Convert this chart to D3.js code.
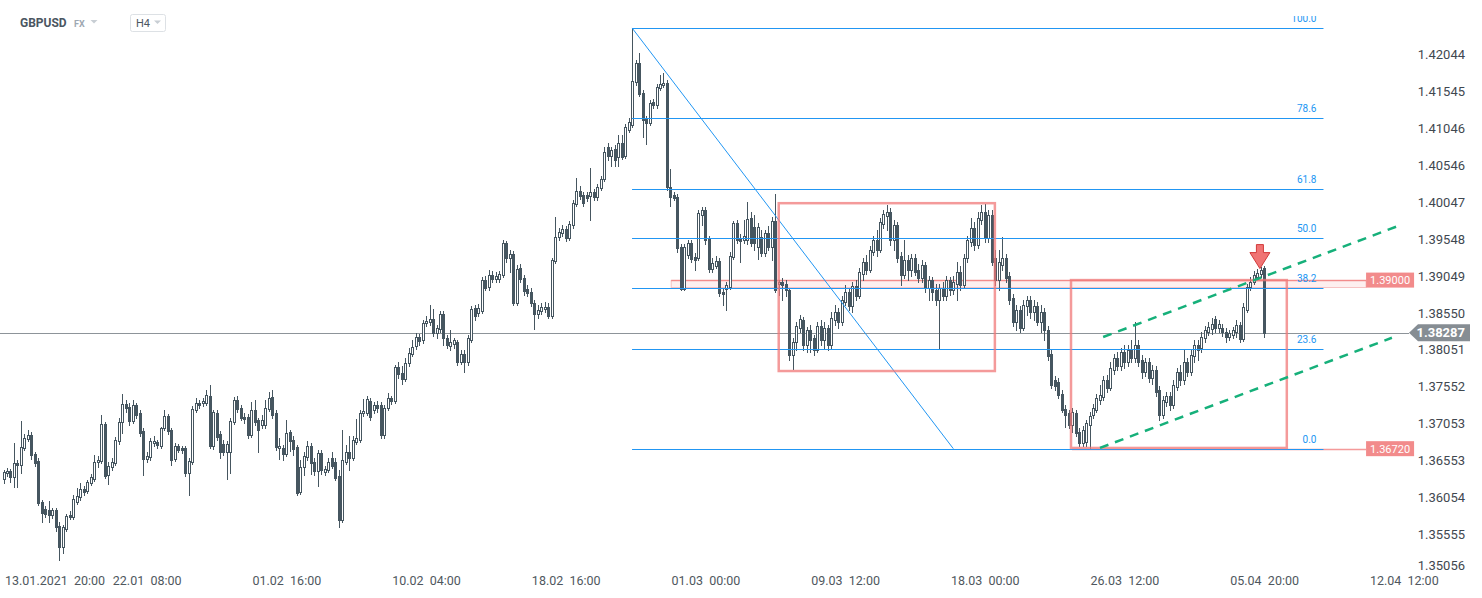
<!DOCTYPE html>
<html><head><meta charset="utf-8">
<script src="https://cdn.jsdelivr.net/npm/d3@7"></script>
<style>
html,body{margin:0;padding:0;background:#fff;}
svg{display:block;font-family:Roboto,"Noto Sans",sans-serif;}
</style></head><body>
<svg id="chart" width="1482" height="598"></svg>
<script>
const opens = [
1.3631,1.3639,1.3642,1.3634,1.3653,1.3650,1.3673,1.3685,1.3690,1.3665,
1.3655,1.3600,1.3590,1.3589,1.3582,1.3589,1.3567,1.3539,1.3563,1.3582,
1.3580,1.3600,1.3607,1.3617,1.3615,1.3626,1.3631,1.3654,1.3655,1.3705,
1.3636,1.3647,1.3653,1.3682,1.3708,1.3732,1.3728,1.3709,1.3731,1.3720,
1.3696,1.3658,1.3661,1.3680,1.3681,1.3676,1.3700,1.3716,1.3697,1.3658,
1.3676,1.3673,1.3673,1.3639,1.3654,1.3724,1.3734,1.3734,1.3734,1.3743,
1.3676,1.3720,1.3692,1.3678,1.3667,1.3667,1.3708,1.3738,1.3727,1.3715,
1.3715,1.3690,1.3724,1.3711,1.3704,1.3704,1.3726,1.3742,1.3720,1.3673,
1.3673,1.3665,1.3695,1.3684,1.3674,1.3613,1.3647,1.3661,1.3676,1.3654,
1.3642,1.3666,1.3640,1.3643,1.3659,1.3654,1.3635,1.3576,1.3654,1.3667,
1.3659,1.3681,1.3684,1.3720,1.3720,1.3736,1.3724,1.3731,1.3731,1.3690,
1.3727,1.3741,1.3736,1.3783,1.3774,1.3766,1.3788,1.3800,1.3811,1.3823,
1.3819,1.3842,1.3843,1.3847,1.3828,1.3834,1.3854,1.3822,1.3811,1.3814,
1.3816,1.3789,1.3800,1.3789,1.3819,1.3862,1.3856,1.3858,1.3900,1.3891,
1.3907,1.3902,1.3902,1.3907,1.3950,1.3930,1.3935,1.3869,1.3916,1.3903,
1.3888,1.3884,1.3869,1.3854,1.3858,1.3861,1.3864,1.3851,1.3926,1.3958,
1.3964,1.3969,1.3957,1.3975,1.4003,1.4020,1.4015,1.4015,1.4014,1.4019,
1.4012,1.4025,1.4037,1.4080,1.4068,1.4077,1.4066,1.4085,1.4068,1.4103,
1.4110,1.4168,1.4194,1.4153,1.4118,1.4112,1.4141,1.4137,1.4160,1.4164,
1.4167,1.4026,1.4015,1.4012,1.3945,1.3888,1.3934,1.3950,1.3931,1.3930,
1.3988,1.3995,1.3956,1.3915,1.3919,1.3926,1.3884,1.3888,1.3891,1.3931,
1.3977,1.3957,1.3954,1.3954,1.3984,1.3972,1.3945,1.3958,1.3937,1.3964,
1.3945,1.3980,1.3895,1.3897,1.3895,1.3887,1.3799,1.3816,1.3835,1.3846,
1.3812,1.3833,1.3822,1.3806,1.3838,1.3819,1.3835,1.3812,1.3846,1.3857,
1.3843,1.3870,1.3884,1.3865,1.3892,1.3878,1.3908,1.3925,1.3914,1.3938,
1.3954,1.3941,1.3976,1.3987,1.3992,1.3954,1.3975,1.3933,1.3907,1.3927,
1.3914,1.3930,1.3914,1.3903,1.3920,1.3889,1.3900,1.3887,1.3873,1.3889,
1.3878,1.3900,1.3887,1.3895,1.3911,1.3893,1.3930,1.3951,1.3970,1.3947,
1.3981,1.3992,1.3957,1.3988,1.3930,1.3900,1.3920,1.3930,1.3906,1.3876,
1.3843,1.3860,1.3835,1.3865,1.3873,1.3857,1.3865,1.3843,1.3857,1.3833,
1.3800,1.3765,1.3762,1.3746,1.3726,1.3720,1.3704,1.3720,1.3695,1.3680,
1.3681,1.3704,1.3718,1.3724,1.3738,1.3742,1.3765,1.3754,1.3778,1.3795,
1.3784,1.3803,1.3789,1.3806,1.3795,1.3812,1.3792,1.3776,1.3789,1.3768,
1.3778,1.3751,1.3718,1.3735,1.3743,1.3731,1.3755,1.3776,1.3765,1.3789,
1.3776,1.3797,1.3812,1.3808,1.3822,1.3830,1.3834,1.3847,1.3835,1.3835,
1.3830,1.3823,1.3826,1.3830,1.3839,1.3820,1.3860,1.3891,1.3898,1.3904,1.3908,1.3916];
const highs = [
1.3643,1.3646,1.3645,1.3680,1.3657,1.3709,1.3692,1.3697,1.3695,1.3667,
1.3659,1.3603,1.3594,1.3601,1.3592,1.3592,1.3573,1.3569,1.3584,1.3588,
1.3609,1.3619,1.3626,1.3622,1.3630,1.3638,1.3663,1.3662,1.3718,1.3708,
1.3654,1.3659,1.3688,1.3714,1.3746,1.3738,1.3734,1.3738,1.3734,1.3724,
1.3700,1.3667,1.3686,1.3689,1.3684,1.3701,1.3724,1.3719,1.3700,1.3680,
1.3678,1.3676,1.3676,1.3659,1.3730,1.3741,1.3738,1.3741,1.3751,1.3758,
1.3724,1.3724,1.3696,1.3684,1.3682,1.3714,1.3742,1.3743,1.3731,1.3720,
1.3719,1.3735,1.3738,1.3714,1.3718,1.3738,1.3749,1.3751,1.3724,1.3686,
1.3677,1.3711,1.3697,1.3689,1.3677,1.3657,1.3667,1.3682,1.3680,1.3659,
1.3670,1.3670,1.3649,1.3659,1.3667,1.3659,1.3643,1.3697,1.3677,1.3689,
1.3689,1.3712,1.3724,1.3739,1.3743,1.3741,1.3735,1.3736,1.3735,1.3731,
1.3747,1.3743,1.3785,1.3789,1.3784,1.3795,1.3808,1.3819,1.3828,1.3827,
1.3846,1.3851,1.3866,1.3861,1.3839,1.3858,1.3858,1.3826,1.3833,1.3822,
1.3819,1.3806,1.3806,1.3826,1.3865,1.3866,1.3868,1.3904,1.3906,1.3914,
1.3912,1.3911,1.3912,1.3954,1.3953,1.3941,1.3939,1.3920,1.3922,1.3907,
1.3893,1.3889,1.3873,1.3866,1.3869,1.3870,1.3869,1.3930,1.3985,1.3970,
1.3975,1.3973,1.3980,1.4008,1.4038,1.4027,1.4019,1.4019,1.4052,1.4023,
1.4030,1.4041,1.4080,1.4085,1.4080,1.4083,1.4096,1.4096,1.4111,1.4119,
1.4241,1.4198,1.4207,1.4157,1.4122,1.4144,1.4145,1.4165,1.4177,1.4180,
1.4171,1.4050,1.4019,1.4016,1.3949,1.3949,1.3954,1.3954,1.3937,1.3995,
1.3999,1.3999,1.3960,1.3930,1.3933,1.3930,1.3888,1.3897,1.3938,1.3980,
1.3981,1.3962,1.3981,1.4006,1.3992,1.3988,1.3977,1.3968,1.3968,1.3973,
1.3985,1.4016,1.3900,1.3903,1.3900,1.3889,1.3822,1.3843,1.3853,1.3850,
1.3837,1.3839,1.3826,1.3843,1.3846,1.3843,1.3839,1.3857,1.3866,1.3862,
1.3878,1.3893,1.3889,1.3897,1.3900,1.3916,1.3930,1.3934,1.3946,1.3960,
1.3968,1.3984,1.3995,1.4002,1.3998,1.3981,1.3979,1.3938,1.3954,1.3934,
1.3935,1.3935,1.3922,1.3927,1.3925,1.3906,1.3904,1.3895,1.3895,1.3897,
1.3906,1.3904,1.3906,1.3925,1.3919,1.3935,1.3960,1.3984,1.3979,1.3992,
1.4002,1.4003,1.3995,1.3995,1.3941,1.3941,1.3958,1.3935,1.3911,1.3881,
1.3866,1.3865,1.3873,1.3878,1.3878,1.3873,1.3870,1.3866,1.3862,1.3838,
1.3806,1.3770,1.3768,1.3751,1.3731,1.3724,1.3727,1.3724,1.3700,1.3703,
1.3711,1.3722,1.3732,1.3746,1.3758,1.3770,1.3772,1.3789,1.3800,1.3803,
1.3808,1.3812,1.3812,1.3819,1.3843,1.3819,1.3799,1.3795,1.3795,1.3785,
1.3784,1.3757,1.3743,1.3749,1.3749,1.3765,1.3781,1.3785,1.3806,1.3795,
1.3806,1.3819,1.3819,1.3830,1.3838,1.3843,1.3849,1.3851,1.3846,1.3841,
1.3835,1.3833,1.3837,1.3846,1.3843,1.3869,1.3895,1.3904,1.3912,1.3915,1.3918,1.3919];
const lows = [
1.3626,1.3635,1.3627,1.3620,1.3620,1.3639,1.3670,1.3682,1.3658,1.3649,
1.3596,1.3573,1.3580,1.3573,1.3578,1.3561,1.3521,1.3531,1.3561,1.3577,
1.3577,1.3597,1.3603,1.3609,1.3612,1.3623,1.3628,1.3647,1.3653,1.3632,
1.3624,1.3643,1.3650,1.3678,1.3693,1.3722,1.3704,1.3707,1.3714,1.3689,
1.3636,1.3654,1.3657,1.3676,1.3673,1.3673,1.3697,1.3692,1.3650,1.3655,
1.3667,1.3666,1.3635,1.3609,1.3651,1.3722,1.3727,1.3730,1.3731,1.3673,
1.3672,1.3684,1.3659,1.3663,1.3631,1.3639,1.3705,1.3722,1.3711,1.3707,
1.3686,1.3688,1.3704,1.3667,1.3700,1.3700,1.3723,1.3714,1.3670,1.3658,
1.3657,1.3662,1.3669,1.3663,1.3609,1.3611,1.3636,1.3657,1.3638,1.3636,
1.3622,1.3638,1.3636,1.3640,1.3646,1.3630,1.3566,1.3573,1.3651,1.3643,
1.3657,1.3678,1.3681,1.3716,1.3718,1.3711,1.3720,1.3722,1.3686,1.3686,
1.3724,1.3732,1.3734,1.3768,1.3760,1.3764,1.3784,1.3797,1.3807,1.3812,
1.3815,1.3838,1.3839,1.3824,1.3822,1.3830,1.3812,1.3808,1.3806,1.3808,
1.3785,1.3787,1.3776,1.3785,1.3816,1.3846,1.3851,1.3856,1.3887,1.3887,
1.3897,1.3897,1.3897,1.3904,1.3925,1.3911,1.3866,1.3866,1.3897,1.3880,
1.3878,1.3865,1.3834,1.3849,1.3854,1.3857,1.3849,1.3849,1.3923,1.3954,
1.3960,1.3953,1.3954,1.3970,1.4000,1.4010,1.4000,1.4007,1.3981,1.4008,
1.4008,1.4022,1.4034,1.4062,1.4054,1.4054,1.4054,1.4064,1.4065,1.4100,
1.4107,1.4164,1.4149,1.4094,1.4084,1.4110,1.4133,1.4133,1.4157,1.4161,
1.4022,1.4000,1.4008,1.3938,1.3887,1.3887,1.3930,1.3925,1.3914,1.3927,
1.3975,1.3949,1.3911,1.3911,1.3916,1.3878,1.3866,1.3860,1.3888,1.3929,
1.3950,1.3925,1.3950,1.3949,1.3946,1.3941,1.3929,1.3933,1.3933,1.3941,
1.3927,1.3884,1.3880,1.3873,1.3878,1.3792,1.3780,1.3806,1.3830,1.3806,
1.3803,1.3803,1.3799,1.3803,1.3812,1.3808,1.3806,1.3808,1.3839,1.3835,
1.3839,1.3866,1.3860,1.3857,1.3873,1.3876,1.3900,1.3908,1.3911,1.3934,
1.3933,1.3938,1.3970,1.3968,1.3947,1.3941,1.3925,1.3893,1.3903,1.3900,
1.3906,1.3907,1.3897,1.3897,1.3884,1.3873,1.3873,1.3866,1.3808,1.3873,
1.3873,1.3880,1.3881,1.3873,1.3887,1.3889,1.3925,1.3946,1.3941,1.3943,
1.3976,1.3952,1.3952,1.3920,1.3893,1.3887,1.3914,1.3897,1.3868,1.3838,
1.3833,1.3830,1.3833,1.3853,1.3849,1.3846,1.3839,1.3830,1.3819,1.3792,
1.3754,1.3751,1.3741,1.3722,1.3701,1.3700,1.3695,1.3689,1.3676,1.3676,
1.3676,1.3672,1.3714,1.3722,1.3732,1.3738,1.3749,1.3751,1.3773,1.3778,
1.3778,1.3781,1.3784,1.3789,1.3789,1.3784,1.3768,1.3770,1.3762,1.3760,
1.3743,1.3711,1.3714,1.3730,1.3724,1.3727,1.3751,1.3758,1.3760,1.3770,
1.3772,1.3789,1.3792,1.3803,1.3816,1.3826,1.3827,1.3830,1.3830,1.3824,
1.3816,1.3819,1.3822,1.3823,1.3816,1.3817,1.3857,1.3887,1.3895,1.3902,1.3904,1.3823];
const closes = [
1.3640,1.3642,1.3634,1.3653,1.3650,1.3674,1.3686,1.3690,1.3663,1.3653,
1.3598,1.3585,1.3584,1.3582,1.3589,1.3566,1.3539,1.3566,1.3581,1.3580,
1.3604,1.3608,1.3617,1.3613,1.3627,1.3634,1.3654,1.3657,1.3705,1.3635,
1.3649,1.3654,1.3684,1.3708,1.3732,1.3727,1.3709,1.3731,1.3718,1.3693,
1.3658,1.3662,1.3682,1.3682,1.3677,1.3700,1.3716,1.3696,1.3657,1.3676,
1.3670,1.3670,1.3639,1.3655,1.3726,1.3734,1.3731,1.3736,1.3745,1.3676,
1.3722,1.3688,1.3667,1.3667,1.3678,1.3709,1.3738,1.3726,1.3714,1.3712,
1.3690,1.3724,1.3708,1.3697,1.3711,1.3727,1.3741,1.3718,1.3674,1.3676,
1.3665,1.3693,1.3682,1.3672,1.3612,1.3647,1.3662,1.3676,1.3653,1.3642,
1.3666,1.3643,1.3645,1.3654,1.3649,1.3632,1.3576,1.3657,1.3667,1.3659,
1.3684,1.3686,1.3720,1.3723,1.3739,1.3715,1.3731,1.3727,1.3690,1.3727,
1.3741,1.3736,1.3783,1.3773,1.3766,1.3788,1.3801,1.3810,1.3823,1.3818,
1.3842,1.3845,1.3847,1.3828,1.3835,1.3854,1.3822,1.3812,1.3816,1.3819,
1.3789,1.3800,1.3789,1.3822,1.3861,1.3851,1.3862,1.3900,1.3889,1.3907,
1.3902,1.3906,1.3908,1.3950,1.3930,1.3935,1.3869,1.3915,1.3902,1.3885,
1.3882,1.3869,1.3854,1.3860,1.3864,1.3864,1.3851,1.3927,1.3958,1.3965,
1.3969,1.3957,1.3976,1.4004,1.4020,1.4014,1.4004,1.4011,1.4019,1.4012,
1.4026,1.4037,1.4073,1.4068,1.4076,1.4062,1.4085,1.4066,1.4107,1.4114,
1.4169,1.4194,1.4152,1.4117,1.4112,1.4140,1.4137,1.4161,1.4165,1.4167,
1.4026,1.4012,1.4011,1.3943,1.3888,1.3945,1.3950,1.3929,1.3927,1.3991,
1.3995,1.3954,1.3915,1.3923,1.3926,1.3882,1.3881,1.3893,1.3933,1.3977,
1.3954,1.3953,1.3960,1.3983,1.3950,1.3950,1.3972,1.3937,1.3964,1.3945,
1.3980,1.3887,1.3897,1.3893,1.3887,1.3799,1.3816,1.3838,1.3847,1.3812,
1.3833,1.3819,1.3806,1.3838,1.3819,1.3835,1.3812,1.3849,1.3857,1.3843,
1.3873,1.3884,1.3865,1.3892,1.3878,1.3911,1.3925,1.3914,1.3941,1.3954,
1.3941,1.3979,1.3989,1.3992,1.3954,1.3975,1.3930,1.3907,1.3927,1.3914,
1.3930,1.3911,1.3903,1.3920,1.3889,1.3900,1.3884,1.3873,1.3889,1.3878,
1.3900,1.3887,1.3897,1.3911,1.3893,1.3930,1.3954,1.3970,1.3947,1.3984,
1.3992,1.3957,1.3988,1.3925,1.3900,1.3925,1.3930,1.3903,1.3873,1.3843,
1.3860,1.3835,1.3866,1.3873,1.3857,1.3865,1.3843,1.3857,1.3833,1.3797,
1.3758,1.3757,1.3745,1.3724,1.3718,1.3704,1.3722,1.3693,1.3680,1.3697,
1.3707,1.3716,1.3727,1.3741,1.3745,1.3765,1.3754,1.3781,1.3795,1.3784,
1.3803,1.3789,1.3806,1.3795,1.3812,1.3789,1.3776,1.3789,1.3768,1.3778,
1.3749,1.3718,1.3738,1.3743,1.3731,1.3758,1.3776,1.3765,1.3789,1.3776,
1.3799,1.3812,1.3806,1.3823,1.3833,1.3837,1.3841,1.3835,1.3841,1.3830,
1.3823,1.3828,1.3833,1.3839,1.3820,1.3864,1.3891,1.3898,1.3907,1.3910,1.3913,1.38287];

const yTicks = [1.42044,1.41545,1.41046,1.40546,1.40047,1.39548,1.39049,1.38550,1.38051,1.37552,1.37053,1.36553,1.36054,1.35555,1.35056];
const xTickIndex = [0,41,81,121,161,201,241,281,321,361,401];
const xTickLabels = ["13.01.2021  20:00","22.01  08:00","01.02  16:00","10.02  04:00","18.02  16:00","01.03  00:00","09.03  12:00","18.03  00:00","26.03  12:00","05.04  20:00","12.04  12:00"];

const fibLevels = [100,78.6,61.8,50,38.2,23.6,0];
const fibLabels = ["100.0","78.6","61.8","50.0","38.2","23.6","0.0"];
const fibHigh = 1.4241, fibLow = 1.3672;
const fibStartIdx = 180, fibDiagEndIdx = 272, fibEndIdx = 378;

const lastPrice = 1.38287;
const zoneTop = 1.3900, zoneBottom = 1.3890, zoneStartIdx = 191.2, zoneEndIdx = 390.2;
const levelPrices = [1.39000, 1.36720];
const levelStartIdx = [191.2, 306];
const rectStartIdx = [222, 305.7];
const rectEndIdx = [283.9, 367.5];
const rectTop = [1.4004, 1.3900];
const rectBottom = [1.3777, 1.3673];
const trendIdx = [[314.9, 399.3],[314.0, 397.6]];
const trendPrice = [[1.3823, 1.3973],[1.3673, 1.3822]];
const arrowIdx = 359.8, arrowPrice = 1.3948;

const svg = d3.select("#chart");
const W = 1482, H = 598;
const x = d3.scaleLinear().domain([0, 401]).range([3.5, 3.5 + 3.492*401]);
const y = d3.scaleLinear().domain([1.35052, 1.42788]).range([572, 0]);
const crisp = v => Math.round(v) + 0.5;

const candleCol = "#465660";
const fibCol = "#2196f3";
const pink = "#f08c8c";

// header
const hdr = svg.append("g");
hdr.append("text").attr("x",20).attr("y",27).attr("font-size",12).attr("font-weight","bold").attr("fill","#4b5661").text("GBPUSD");
hdr.append("text").attr("x",74).attr("y",27).attr("font-size",9).attr("font-weight","bold").attr("fill","#9ea8b2").text("FX");
hdr.append("path").attr("d","M90.5,20 L97.5,20 L94,23.5 Z").attr("fill","#c8ced4");
hdr.append("rect").attr("x",130.5).attr("y",14.5).attr("width",35).attr("height",17).attr("rx",2).attr("fill","#fff").attr("stroke","#dde1e5");
hdr.append("text").attr("x",136).attr("y",27).attr("font-size",11).attr("fill","#4b5661").text("H4");
hdr.append("path").attr("d","M154,20.5 L161,20.5 L157.5,24 Z").attr("fill","#c8ced4");

// clip
svg.append("defs").append("clipPath").attr("id","plotclip").append("rect").attr("x",0).attr("y",16).attr("width",1410).attr("height",556);
const plot = svg.append("g").attr("clip-path","url(#plotclip)");

// pink zone band
plot.append("rect")
  .attr("x", x(zoneStartIdx)).attr("y", crisp(y(zoneTop)))
  .attr("width", x(zoneEndIdx) - x(zoneStartIdx)).attr("height", Math.round(y(zoneBottom)-y(zoneTop)))
  .attr("fill","rgba(240,130,130,0.13)").attr("stroke","rgba(240,130,130,0.45)").attr("stroke-width",1);
// level lines
plot.selectAll(".lvl").data(levelPrices).join("line")
  .attr("x1",(d,i)=>x(levelStartIdx[i])).attr("x2",x(zoneEndIdx))
  .attr("y1",d=>crisp(y(d))).attr("y2",d=>crisp(y(d)))
  .attr("stroke","rgba(240,120,120,0.75)").attr("stroke-width",1.5);

// current price line
plot.append("line").attr("x1",0).attr("x2",1409).attr("y1",crisp(y(lastPrice))).attr("y2",crisp(y(lastPrice)))
  .attr("stroke","#8d9499").attr("stroke-width",1);

// candles
const idx = d3.range(opens.length);
const cg = plot.append("g");
cg.selectAll("line").data(idx).join("line")
  .attr("x1",i=>Math.round(x(i))+0.5).attr("x2",i=>Math.round(x(i))+0.5)
  .attr("y1",i=>Math.round(y(Math.max(highs[i],opens[i],closes[i]))))
  .attr("y2",i=>Math.round(y(Math.min(lows[i],opens[i],closes[i])))+1)
  .attr("stroke",candleCol).attr("stroke-width",1);
cg.selectAll("rect").data(idx).join("rect")
  .attr("x",i=>Math.round(x(i))-0.5)
  .attr("y",i=>Math.round(y(Math.max(opens[i],closes[i])))+0.5)
  .attr("width",2)
  .attr("height",i=>Math.max(1, Math.round(y(Math.min(opens[i],closes[i])))-Math.round(y(Math.max(opens[i],closes[i])))))
  .attr("fill",i=>closes[i]>=opens[i]?"#fff":candleCol)
  .attr("stroke",candleCol).attr("stroke-width",1);

// fibonacci
const fibPrice = l => fibLow + (fibHigh-fibLow)*l/100;
const fg = plot.append("g");
fg.selectAll("line.fib").data(fibLevels).join("line").attr("class","fib")
  .attr("x1",x(fibStartIdx)).attr("x2",x(fibEndIdx))
  .attr("y1",d=>crisp(y(fibPrice(d)))).attr("y2",d=>crisp(y(fibPrice(d))))
  .attr("stroke",fibCol).attr("stroke-width",1);
fg.append("line").attr("x1",x(fibStartIdx)).attr("y1",y(fibHigh)).attr("x2",x(fibDiagEndIdx)).attr("y2",y(fibLow))
  .attr("stroke",fibCol).attr("stroke-width",1);
fg.selectAll("text").data(fibLevels).join("text")
  .attr("x",x(fibEndIdx)-7).attr("y",d=>Math.round(y(fibPrice(d)))-6)
  .attr("text-anchor","end").attr("font-size",10).attr("fill",fibCol)
  .text((d,i)=>fibLabels[i]);

// rectangles
plot.selectAll("rect.box").data(rectStartIdx).join("rect").attr("class","box")
  .attr("x",(d,i)=>x(rectStartIdx[i])).attr("y",(d,i)=>y(rectTop[i]))
  .attr("width",(d,i)=>x(rectEndIdx[i])-x(rectStartIdx[i]))
  .attr("height",(d,i)=>y(rectBottom[i])-y(rectTop[i]))
  .attr("fill","none").attr("stroke","rgba(240,120,120,0.75)").attr("stroke-width",2.5);

// trend lines
plot.selectAll("line.trend").data(trendIdx).join("line").attr("class","trend")
  .attr("x1",(d,i)=>x(d[0])).attr("x2",(d,i)=>x(d[1]))
  .attr("y1",(d,i)=>y(trendPrice[i][0])).attr("y2",(d,i)=>y(trendPrice[i][1]))
  .attr("stroke","#16b07a").attr("stroke-width",2.5).attr("stroke-dasharray","9,7");

// arrow
const ax = x(arrowIdx), ay = y(arrowPrice);
plot.append("path")
  .attr("d",`M${ax-3.5},${ay} L${ax+3.5},${ay} L${ax+3.5},${ay+8} L${ax+10},${ay+8} L${ax},${ay+24} L${ax-10},${ay+8} L${ax-3.5},${ay+8} Z`)
  .attr("fill","#f07474").attr("stroke","#d23b3b").attr("stroke-width",1).attr("stroke-linejoin","round");

// level labels
const lg = svg.append("g");
levelPrices.forEach(p=>{
  const yy = y(p);
  lg.append("rect").attr("x",x(zoneEndIdx)).attr("y",yy-7.5).attr("width",48).attr("height",15).attr("fill","#f28b8b");
  lg.append("text").attr("x",x(zoneEndIdx)+24).attr("y",yy+4).attr("text-anchor","middle")
    .attr("font-size",11).attr("fill","#fff").text(d3.format(".5f")(p));
});

// y axis
const yAxis = svg.append("g").attr("transform","translate(1465,0)")
  .call(d3.axisRight(y).tickValues(yTicks).tickSize(0).tickPadding(0).tickFormat(d3.format(".5f")));
yAxis.select(".domain").remove();
yAxis.selectAll(".tick").attr("transform",d=>`translate(0,${Math.min(y(d),566)})`);
yAxis.selectAll("text").attr("text-anchor","end").attr("x",0)
  .attr("font-family","Roboto, sans-serif").attr("font-size",13).attr("fill","#3f4850");

// current price tag
const cy = y(lastPrice);
svg.append("path").attr("d",`M1409,${cy} L1418,${cy-8.5} L1470,${cy-8.5} L1470,${cy+8.5} L1418,${cy+8.5} Z`).attr("fill","#868d93");
svg.append("text").attr("x",1465).attr("y",cy+4.5).attr("text-anchor","end").attr("font-size",13).attr("font-weight","bold")
  .attr("fill","#fff").text(d3.format(".5f")(lastPrice));

// x axis
const xAxis = svg.append("g").attr("transform","translate(0,572)")
  .call(d3.axisBottom(x).tickValues(xTickIndex).tickSize(0).tickPadding(4).tickFormat((d,i)=>xTickLabels[i]));
xAxis.select(".domain").remove();
xAxis.selectAll("text").style("white-space","pre")
  .attr("font-family","Roboto, sans-serif").attr("font-size",12.5).attr("fill","#4f575e");
xAxis.selectAll("text").filter((d,i)=>i===0).attr("text-anchor","start").attr("x",1);
</script>
</body></html>
